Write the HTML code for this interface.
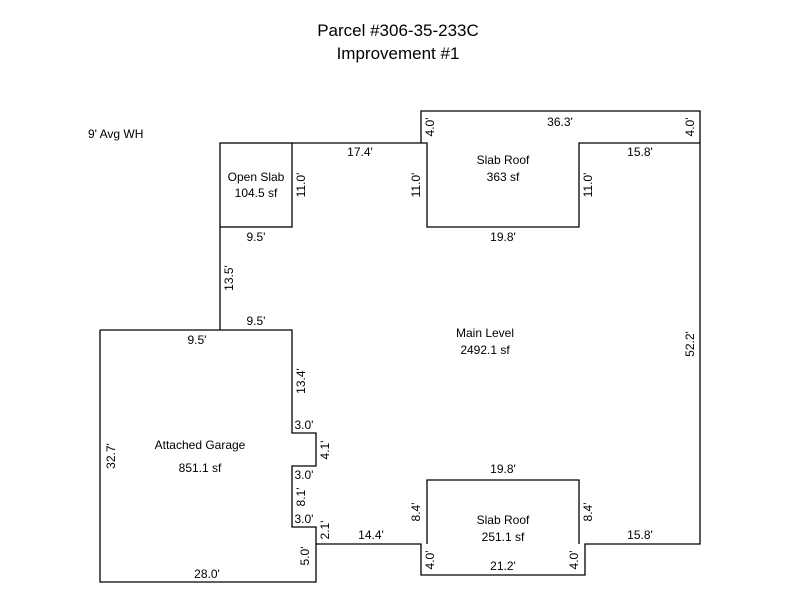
<!DOCTYPE html>
<html><head><style>body{margin:0;background:#fff}svg{display:block}text{font-family:"Liberation Sans",Arial,sans-serif;font-size:12px;fill:#000}</style></head><body>
<svg width="800" height="600" viewBox="0 0 800 600" xmlns="http://www.w3.org/2000/svg">
<text x="398" y="36" text-anchor="middle" style="font-size:17px">Parcel #306-35-233C</text>
<text x="398" y="59" text-anchor="middle" style="font-size:17px">Improvement #1</text>
<text x="88" y="138">9' Avg WH</text>
<g fill="none" stroke="#000" stroke-width="1.3">
<rect x="220" y="143" width="72" height="84"/>
<polyline points="292,143 427,143 427,227 579,227 579,143 700,143"/>
<polyline points="421,143 421,111 700,111 700,544 585,544 585,575 421,575 421,544 316,544"/>
<polyline points="427,544 427,480 579,480 579,544"/>
<polyline points="220,227 220,330"/>
<polyline points="100,330 292,330 292,433 316,433 316,466 292,466 292,527 316,527 316,582 100,582 100,330"/>
</g>
<text x="256" y="181" text-anchor="middle">Open Slab</text>
<text x="256" y="197" text-anchor="middle">104.5 sf</text>
<text x="503" y="164" text-anchor="middle">Slab Roof</text>
<text x="503" y="181" text-anchor="middle">363 sf</text>
<text x="485" y="337" text-anchor="middle">Main Level</text>
<text x="485" y="354" text-anchor="middle">2492.1 sf</text>
<text x="200" y="449" text-anchor="middle">Attached Garage</text>
<text x="200" y="472" text-anchor="middle">851.1 sf</text>
<text x="503" y="524" text-anchor="middle">Slab Roof</text>
<text x="503" y="541" text-anchor="middle">251.1 sf</text>
<g text-anchor="middle">
<text x="360" y="156">17.4'</text>
<text x="560" y="126">36.3'</text>
<text x="640" y="156">15.8'</text>
<text x="503" y="241">19.8'</text>
<text x="256" y="241">9.5'</text>
<text x="256" y="325">9.5'</text>
<text x="197" y="344">9.5'</text>
<text x="304" y="429">3.0'</text>
<text x="304" y="479">3.0'</text>
<text x="304" y="523">3.0'</text>
<text x="371" y="539">14.4'</text>
<text x="503" y="473">19.8'</text>
<text x="503" y="570">21.2'</text>
<text x="640" y="539">15.8'</text>
<text x="207" y="578">28.0'</text>
</g>
<g text-anchor="middle">
<text transform="translate(434,127) rotate(-90)">4.0'</text>
<text transform="translate(694,127) rotate(-90)">4.0'</text>
<text transform="translate(305,185) rotate(-90)">11.0'</text>
<text transform="translate(420,185) rotate(-90)">11.0'</text>
<text transform="translate(592,185) rotate(-90)">11.0'</text>
<text transform="translate(233,278) rotate(-90)">13.5'</text>
<text transform="translate(305,381) rotate(-90)">13.4'</text>
<text transform="translate(329,450) rotate(-90)">4.1'</text>
<text transform="translate(305,497) rotate(-90)">8.1'</text>
<text transform="translate(329,530) rotate(-90)">2.1'</text>
<text transform="translate(309,556) rotate(-90)">5.0'</text>
<text transform="translate(420,512) rotate(-90)">8.4'</text>
<text transform="translate(592,512) rotate(-90)">8.4'</text>
<text transform="translate(434,560) rotate(-90)">4.0'</text>
<text transform="translate(578,560) rotate(-90)">4.0'</text>
<text transform="translate(694,344) rotate(-90)">52.2'</text>
<text transform="translate(115,456) rotate(-90)">32.7'</text>
</g>
</svg>
</body></html>
